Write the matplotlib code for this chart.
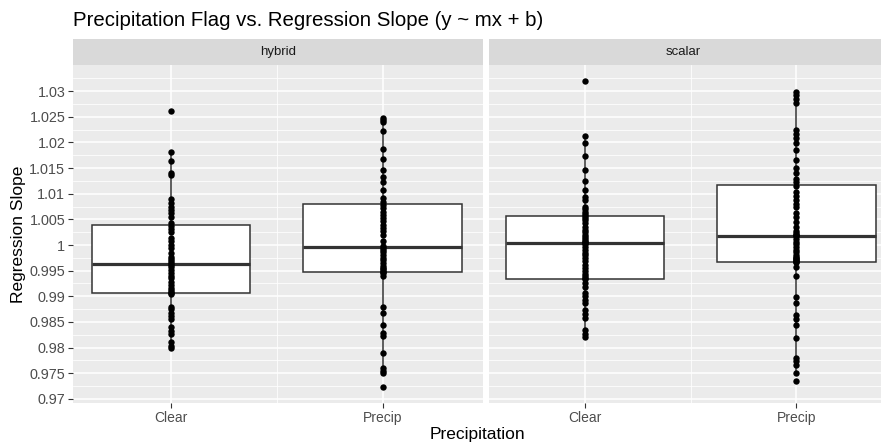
import matplotlib
matplotlib.use("Agg")
import matplotlib.pyplot as plt
import numpy as np

plt.rcParams['font.family'] = ['Liberation Sans', 'DejaVu Sans']

title = "Precipitation Flag vs. Regression Slope (y ~ mx + b)"
facets = ["hybrid", "scalar"]
categories = ["Clear", "Precip"]
y_ticks = [0.97, 0.975, 0.98, 0.985, 0.99, 0.995, 1.0, 1.005, 1.01, 1.015, 1.02, 1.025, 1.03]
y_tick_labels = ["0.97", "0.975", "0.98", "0.985", "0.99", "0.995", "1", "1.005", "1.01", "1.015", "1.02", "1.025", "1.03"]

hybrid_clear = [
    1.0262, 1.0181, 1.0164, 1.0140, 1.0136, 1.0089, 1.0082, 1.0074, 1.0068, 1.0062, 1.0055, 1.0043,
    1.0037, 1.0031, 1.0025, 1.0014, 1.0008, 1.0001, 0.9995, 0.9985, 0.9977, 0.9972, 0.9968, 0.9965,
    0.9962, 0.9957, 0.9951, 0.9946, 0.9940, 0.9935, 0.9928, 0.9922, 0.9916, 0.9912, 0.9908, 0.9906,
    0.9904, 0.9880, 0.9875, 0.9868, 0.9862, 0.9855, 0.9840, 0.9833, 0.9826, 0.9810, 0.9803, 0.9800,
]
hybrid_precip = [
    1.0247, 1.0243, 1.0240, 1.0223, 1.0188, 1.0167, 1.0146, 1.0133, 1.0123, 1.0108, 1.0091, 1.0083,
    1.0078, 1.0072, 1.0065, 1.0058, 1.0052, 1.0046, 1.0040, 1.0033, 1.0027, 1.0019, 1.0008, 0.9999,
    0.9995, 0.9991, 0.9986, 0.9981, 0.9975, 0.9970, 0.9964, 0.9960, 0.9956, 0.9953, 0.9950, 0.9948,
    0.9945, 0.9940, 0.9880, 0.9867, 0.9844, 0.9829, 0.9822, 0.9789, 0.9761, 0.9755, 0.9750, 0.9723,
]
scalar_clear = [
    1.0320, 1.0212, 1.0199, 1.0173, 1.0146, 1.0125, 1.0108, 1.0094, 1.0088, 1.0075, 1.0070, 1.0064, 1.0060,
    1.0056, 1.0052, 1.0048, 1.0042, 1.0036, 1.0030, 1.0025, 1.0020, 1.0015, 1.0011, 1.0008, 1.0006, 1.0004,
    1.0002, 0.9997, 0.9991, 0.9985, 0.9980, 0.9974, 0.9968, 0.9962, 0.9956, 0.9950, 0.9944, 0.9939, 0.9935,
    0.9933, 0.9926, 0.9918, 0.9906, 0.9900, 0.9893, 0.9887, 0.9873, 0.9866, 0.9857, 0.9834, 0.9826, 0.9821,
]
scalar_precip = [
    1.0299, 1.0292, 1.0284, 1.0276, 1.0224, 1.0216, 1.0208, 1.0199, 1.0186, 1.0166, 1.0150, 1.0140, 1.0128, 1.0123,
    1.0116, 1.0104, 1.0095, 1.0087, 1.0080, 1.0075, 1.0062, 1.0055, 1.0045, 1.0036, 1.0028, 1.0023, 1.0020, 1.0019,
    1.0017, 1.0012, 1.0006, 1.0002, 0.9996, 0.9991, 0.9986, 0.9981, 0.9977, 0.9974, 0.9972, 0.9970, 0.9968, 0.9967,
    0.9966, 0.9958, 0.9940, 0.9899, 0.9887, 0.9864, 0.9855, 0.9845, 0.9818, 0.9780, 0.9774, 0.9767, 0.9750, 0.9734,
]

panel_data = {
    "hybrid": [hybrid_clear, hybrid_precip],
    "scalar": [scalar_clear, scalar_precip],
}

W, H = 881, 445
fig = plt.figure(figsize=(W / 100, H / 100), dpi=100)
fig.patch.set_facecolor("white")

def fx(px):
    return px / W

def fy(py):
    return 1 - py / H

panel_top, panel_bot = 65, 403
strip_top = 39
panels_px = [(73, 483, (0.537, 2.475)), (489, 881, (0.545, 2.40))]
strip_text_x = [278, 683]

bg = "#EBEBEB"
for i, (name, (x0, x1, xl)) in enumerate(zip(facets, panels_px)):
    ax = fig.add_axes([fx(x0), fy(panel_bot), fx(x1 - x0), (panel_bot - panel_top) / H])
    ax.set_facecolor(bg)
    for s in ax.spines.values():
        s.set_visible(False)
    ax.set_xlim(*xl)
    ax.set_ylim(0.9692, 1.0351)
    for k in range(len(y_ticks) - 1):
        ax.axhline((y_ticks[k] + y_ticks[k + 1]) / 2, color="white", lw=0.55, zorder=0)
    ax.axhline(y_ticks[-1] + 0.0025, color="white", lw=0.55, zorder=0)
    ax.axvline(1.5, color="white", lw=0.55, zorder=0)
    for t in y_ticks:
        ax.axhline(t, color="white", lw=1.1, zorder=0)
    for p in [1, 2]:
        ax.axvline(p, color="white", lw=1.1, zorder=0)

    data = panel_data[name]
    ax.boxplot(data, positions=[1, 2], widths=0.75, patch_artist=True, showfliers=False,
               showcaps=False, whis=1.5,
               boxprops=dict(facecolor="white", edgecolor="#333333", linewidth=1.1),
               whiskerprops=dict(color="#333333", linewidth=1.1),
               medianprops=dict(color="#333333", linewidth=2.3),
               zorder=2)
    for p, vals in zip([1, 2], data):
        ax.plot(np.full(len(vals), p), vals, "o", color="black", ms=4.6, mew=0, zorder=3)

    ax.set_xticks([1, 2])
    ax.set_xticklabels(categories, fontsize=10, color="#4D4D4D")
    ax.tick_params(axis="x", length=3.5, width=0.8, color="#333333", pad=2)
    ax.set_yticks(y_ticks)
    if i == 0:
        ax.set_yticklabels(y_tick_labels, fontsize=10.4, color="#4D4D4D")
        ax.tick_params(axis="y", length=3.5, width=0.8, color="#333333", pad=2)
    else:
        ax.tick_params(axis="y", length=0, labelleft=False)

    sax = fig.add_axes([fx(x0), fy(panel_top), fx(x1 - x0), (panel_top - strip_top) / H])
    sax.set_facecolor("#D9D9D9")
    for s in sax.spines.values():
        s.set_visible(False)
    sax.set_xticks([])
    sax.set_yticks([])
    fig.text(fx(strip_text_x[i]), fy((strip_top + panel_top) / 2), name,
             ha="center", va="center", fontsize=9.5, color="#1A1A1A")

fig.text(fx(73), fy(20), title, ha="left", va="center", fontsize=14.7, color="black")
fig.text(fx(19), fy((panel_top + panel_bot) / 2), "Regression Slope", rotation=90,
         ha="center", va="center", fontsize=12.5, color="black")
fig.text(fx(477), fy(435), "Precipitation", ha="center", va="center", fontsize=12.5, color="black")

fig.savefig("out.png", dpi=100)
